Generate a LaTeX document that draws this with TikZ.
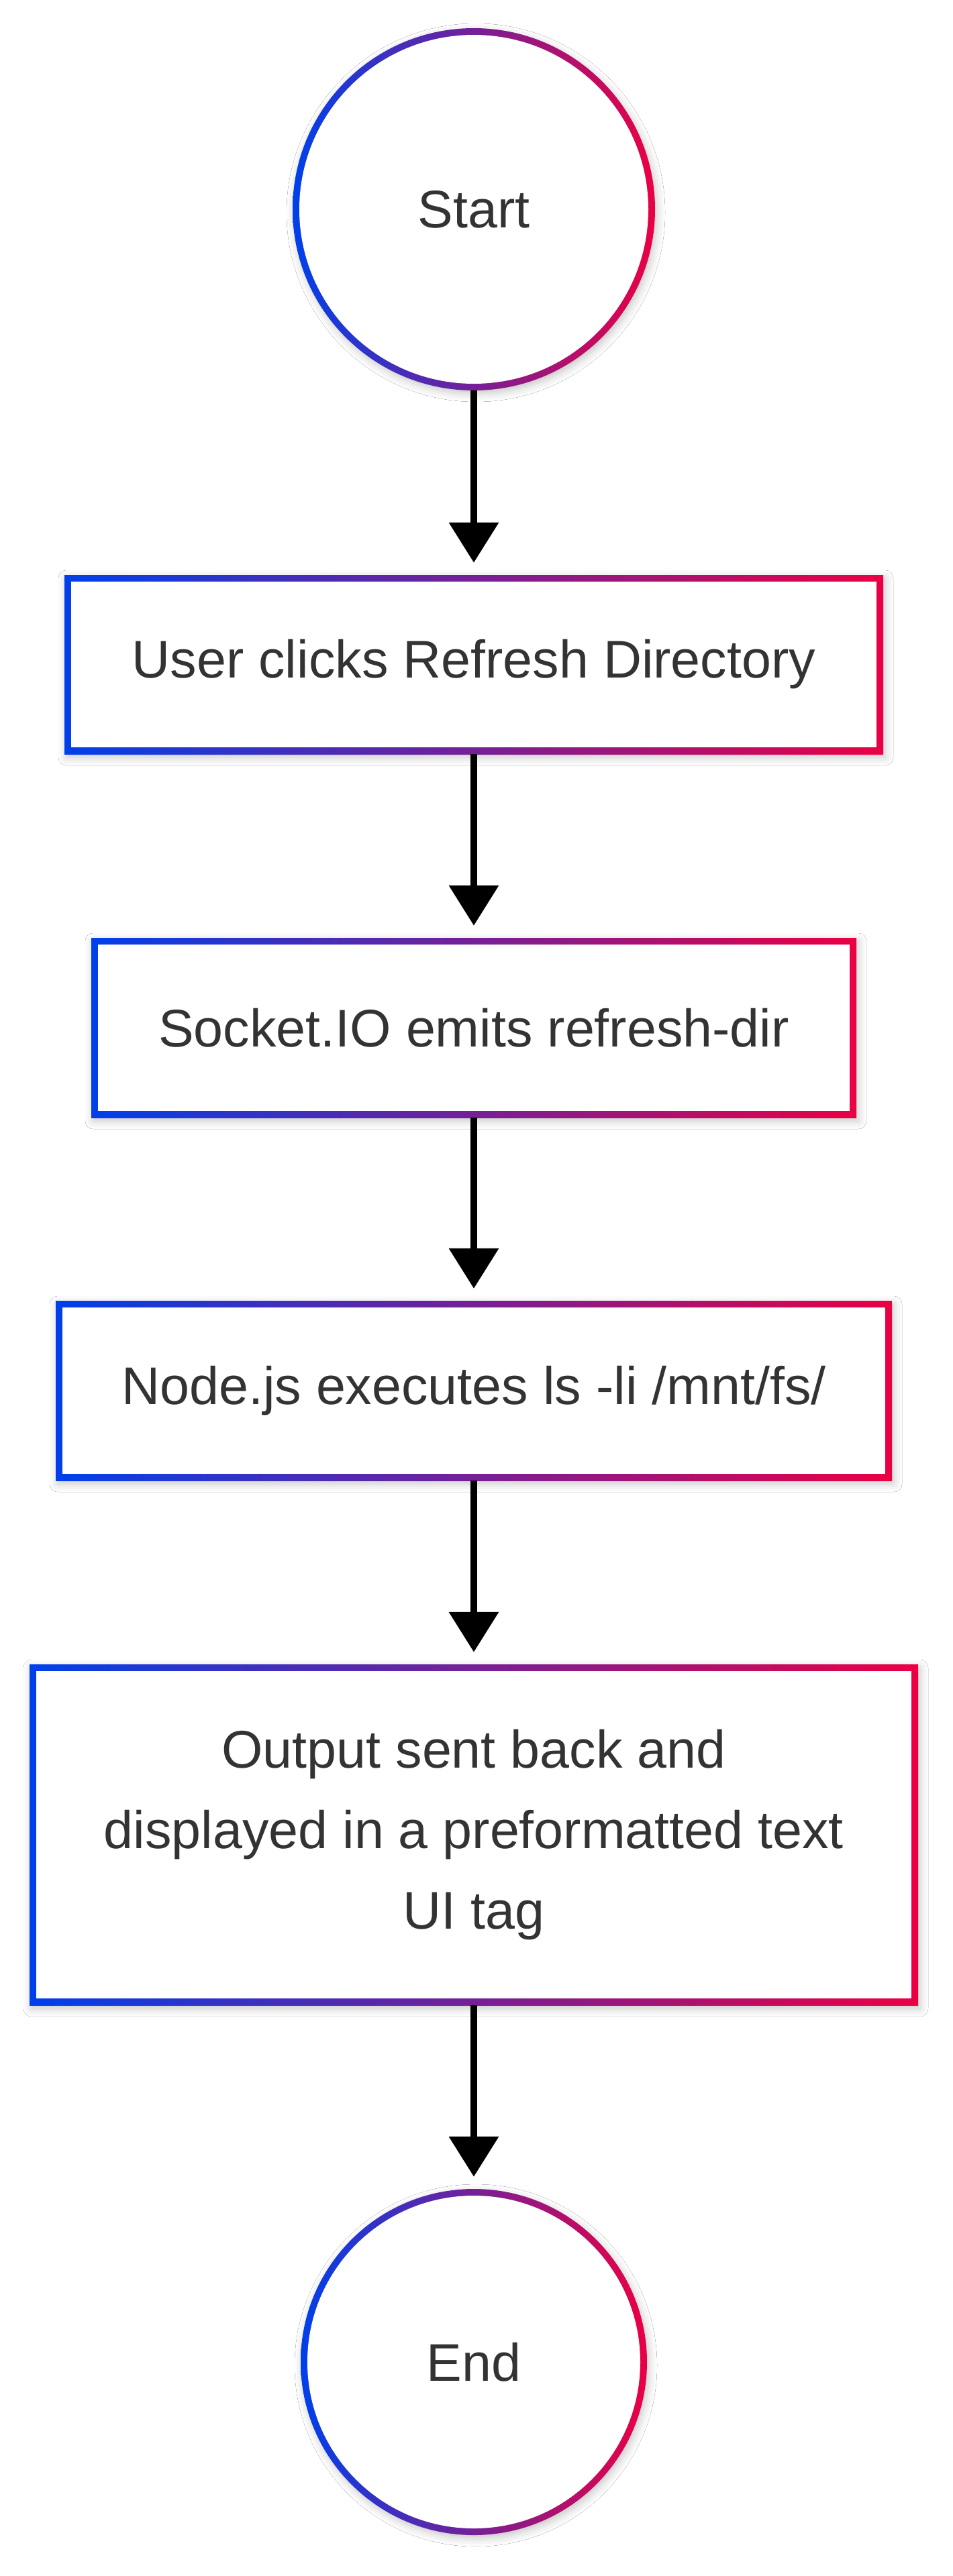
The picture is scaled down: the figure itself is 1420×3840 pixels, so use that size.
\documentclass[tikz,border=0pt]{standalone}
\usepackage{fontspec}
\setmainfont{Liberation Sans}
\usetikzlibrary{arrows.meta,shadows.blur}
\definecolor{gblue}{RGB}{0,64,234}
\definecolor{gred}{RGB}{234,0,68}
\definecolor{txt}{RGB}{51,51,51}
\tikzset{
  softshadow/.style={blur shadow={shadow xshift=3pt, shadow yshift=-5pt, shadow blur radius=12pt, shadow opacity=22}},
  labelfont/.style={text=txt, font=\fontsize{79}{120}\selectfont, align=center},
  ringnode/.style={circle, inner sep=0pt, minimum size=#1, labelfont, softshadow,
    path picture={
      \shade[left color=gblue, right color=gred] (path picture bounding box.south west) rectangle (path picture bounding box.north east);
      \fill[white] (path picture bounding box.center) circle[radius={#1/2-10pt}];
    }},
  boxnode/.style 2 args={rectangle, inner sep=0pt, minimum width=#1, minimum height=#2, labelfont, softshadow,
    path picture={
      \shade[left color=gblue, right color=gred] (path picture bounding box.south west) rectangle (path picture bounding box.north east);
      \fill[white] ([xshift=10pt,yshift=10pt]path picture bounding box.south west) rectangle ([xshift=-10pt,yshift=-10pt]path picture bounding box.north east);
    }},
  flow/.style={line width=10.5pt, black, -{Triangle[width=72pt,length=60pt]}, shorten >=18pt}
}
\begin{document}
\begin{tikzpicture}[x=1pt, y=-1pt]
  \fill[white] (0,0) rectangle (1420,3840);
  \useasboundingbox (0,0) rectangle (1420,3840);

  \node[ringnode=540pt] (start) at (706,312) {Start};
  \node[boxnode={1220pt}{267pt}] (b1) at (706,990.5) {User clicks Refresh Directory};
  \node[boxnode={1140pt}{268pt}] (b2) at (706,1532) {Socket.IO emits refresh-dir};
  \node[boxnode={1246pt}{268pt}] (b3) at (706,2073) {Node.js executes ls -li /mnt/fs/};
  \node[boxnode={1324pt}{508pt}] (b4) at (706,2735) {Output sent back and\\displayed in a preformatted text\\UI tag};
  \node[ringnode=516pt] (end) at (706,3521) {End};

  \draw[flow] (start.south) -- (b1.north);
  \draw[flow] (b1.south) -- (b2.north);
  \draw[flow] (b2.south) -- (b3.north);
  \draw[flow] (b3.south) -- (b4.north);
  \draw[flow] (b4.south) -- (end.north);
\end{tikzpicture}
\end{document}
